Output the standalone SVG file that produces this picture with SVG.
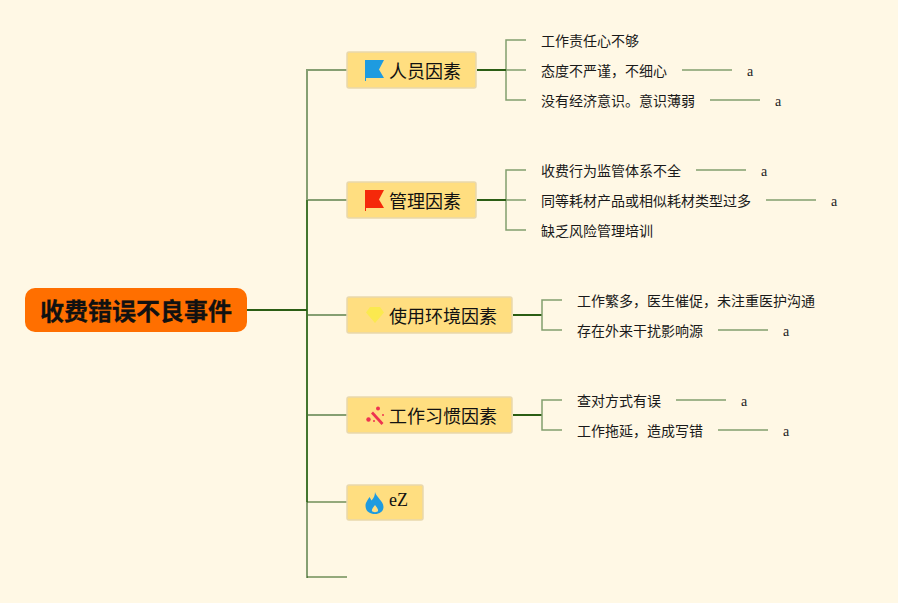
<svg xmlns="http://www.w3.org/2000/svg" width="898" height="603" viewBox="0 0 898 603">
<style>
.bg{fill:#fff8e5}
.n{fill:#ffde80;stroke:#e9d8ac;stroke-width:1.5}
.t{font-family:"Noto Sans CJK SC","Liberation Sans",sans-serif;fill:#111}
.m{font-size:18px}
.s{font-size:14px;fill:#1a1a1a}
.a{font-family:"Liberation Serif",serif;font-size:14px;fill:#222}
.l{fill:none;stroke:#829e6e;stroke-width:1.5}
.b{fill:none;stroke:#869f72;stroke-width:2}
.m2{fill:none;stroke:#44762f;stroke-width:2}
.d{fill:none;stroke:#2a5a12;stroke-width:1.2}
.D{fill:none;stroke:#2b5e14;stroke-width:2}
</style>
<rect class="bg" width="898" height="603"/>
<g id="connectors">
<path class="b" d="M307 70H347M307 200H347M307 315H347M307 415H347"/>
<path class="b" d="M307 69V200M307 502V578"/>
<path class="m2" d="M307 200V502"/>
<path class="D" d="M247 310H307"/>
<path class="d" d="M307 502H347M307 577H347"/>
<path class="l" d="M526 40H506V100H526M506 70H526M526 170H506V230H526M506 200H526"/>
<path class="D" d="M477 70H506M477 200H506M513 315H542M513 415H542"/>
<path class="l" d="M562 300H542V330H562M562 400H542V430H562"/>
<path class="l" d="M682 70H732M710 100H760M696 170H746M766 200H816M718 330H768M676 400H726M718 430H768"/>
</g>
<g id="root"><rect x="25" y="288" width="222" height="44" rx="10" fill="#ff6f00"/><text class="t" x="40" y="320" font-size="24" font-weight="700" stroke="#111" stroke-width=".3">收费错误不良事件</text></g>
<g id="n1"><rect class="n" x="347" y="52" width="129" height="36" rx="2"/><path d="M365 60H384L379 69.500L384 78H366V81H365Z" fill="#1e9be0"/><text class="t m" x="389" y="78">人员因素</text></g>
<g id="n2"><rect class="n" x="347" y="182" width="129" height="36" rx="2"/><path d="M365 190H384L379 199.500L384 208H366V211H365Z" fill="#f5290a"/><text class="t m" x="389" y="208">管理因素</text></g>
<g id="n3"><rect class="n" x="347" y="297" width="165" height="36" rx="2"/><path d="M370 307H380L384 312.500L375 323L366 312.500Z" fill="#fbe94f"/><text class="t m" x="389" y="323">使用环境因素</text></g>
<g id="n4"><rect class="n" x="347" y="397" width="165" height="36" rx="2"/><path d="M371 413.500L373 411.500L383.500 423L381.500 425Z" fill="#ee3350"/><circle cx="368.500" cy="419.500" r="2.200" fill="#ee3350"/><circle cx="378" cy="408.500" r="2" fill="#ee3350"/><circle cx="383" cy="415" r="1" fill="#ee3350"/><circle cx="374" cy="421" r="1" fill="#ee3350"/><text class="t m" x="389" y="423">工作习惯因素</text></g>
<g id="n5"><rect class="n" x="347" y="485" width="76" height="35" rx="2"/><path fill-rule="evenodd" d="M375 492C376 497 383.500 501 383.500 507C383.500 511 380 514 375 514C369 514 365.500 510.500 365.500 506C365.500 502 368 500 369.500 497L371.500 500.500C374 498 375 495 375 492ZM375 505C373 507.500 371.500 509.500 372 511C372.500 512.500 377.500 512.500 378 511C378.500 509.500 377 507.500 375 505Z" fill="#1e9be0"/><text x="389" y="506" font-family="Liberation Serif,serif" font-size="18" fill="#111">eZ</text></g>
<g id="leaves">
<text class="t s" x="541" y="46">工作责任心不够</text>
<text class="t s" x="541" y="76">态度不严谨，不细心</text><text class="a" x="747" y="76">a</text>
<text class="t s" x="541" y="106">没有经济意识。意识薄弱</text><text class="a" x="775" y="106">a</text>
<text class="t s" x="541" y="176">收费行为监管体系不全</text><text class="a" x="761" y="176">a</text>
<text class="t s" x="541" y="206">同等耗材产品或相似耗材类型过多</text><text class="a" x="831" y="206">a</text>
<text class="t s" x="541" y="236">缺乏风险管理培训</text>
<text class="t s" x="577" y="306">工作繁多，医生催促，未注重医护沟通</text>
<text class="t s" x="577" y="336">存在外来干扰影响源</text><text class="a" x="783" y="336">a</text>
<text class="t s" x="577" y="406">查对方式有误</text><text class="a" x="741" y="406">a</text>
<text class="t s" x="577" y="436">工作拖延，造成写错</text><text class="a" x="783" y="436">a</text>
</g>
</svg>
